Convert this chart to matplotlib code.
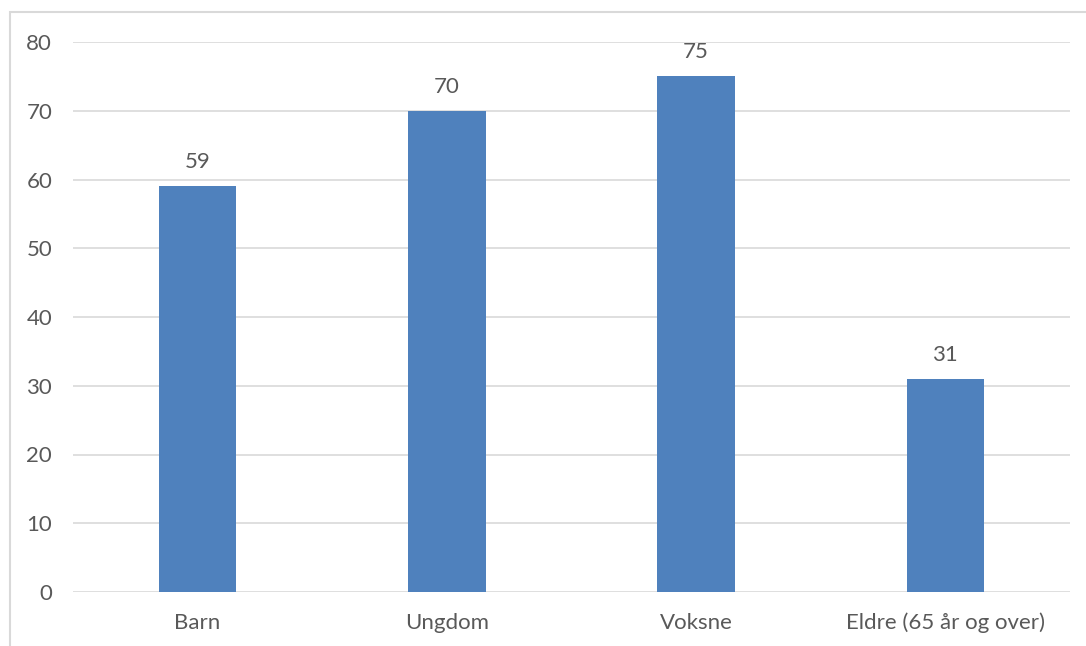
import matplotlib.pyplot as plt
from matplotlib.patches import Rectangle

# data
categories = ['Barn', 'Ungdom', 'Voksne', 'Eldre (65 år og over)']
values = [59, 70, 75, 31]
yticks = [0, 10, 20, 30, 40, 50, 60, 70, 80]

plt.rcParams['font.family'] = ['Lato', 'DejaVu Sans']
text_color = '#595959'
grid_color = '#D9D9D9'
fs = 16

fig = plt.figure(figsize=(10.86, 6.46), dpi=100)
ax = fig.add_axes([73 / 1086, 54 / 646, (1070 - 73) / 1086, (592 - 42) / 646])

x = range(len(categories))
ax.bar(x, values, width=0.31, color='#4F81BD', zorder=3)

for xi, v in zip(x, values):
    ax.annotate(str(v), (xi, v), xytext=(0, 10), textcoords='offset points',
                ha='center', va='bottom', fontsize=fs, color=text_color)

ax.set_xlim(-0.5, len(categories) - 0.5)
ax.set_ylim(0, 80)
ax.set_yticks(yticks)
ax.set_xticks(list(x))
ax.set_xticklabels(categories)
ax.yaxis.grid(True, color=grid_color, linewidth=1.2, zorder=0)
ax.tick_params(axis='both', length=0, labelsize=fs, labelcolor=text_color)
ax.tick_params(axis='y', pad=15)
ax.tick_params(axis='x', pad=15)
for s in ax.spines.values():
    s.set_visible(False)

# outer chart border (only top and left visible in the crop)
fig.patches.append(Rectangle((10 / 1086, -0.1), 1.2, (646 - 12) / 646 + 0.1,
                             transform=fig.transFigure, fill=False,
                             edgecolor=grid_color, linewidth=1.5))

fig.savefig('out.png', dpi=100)
